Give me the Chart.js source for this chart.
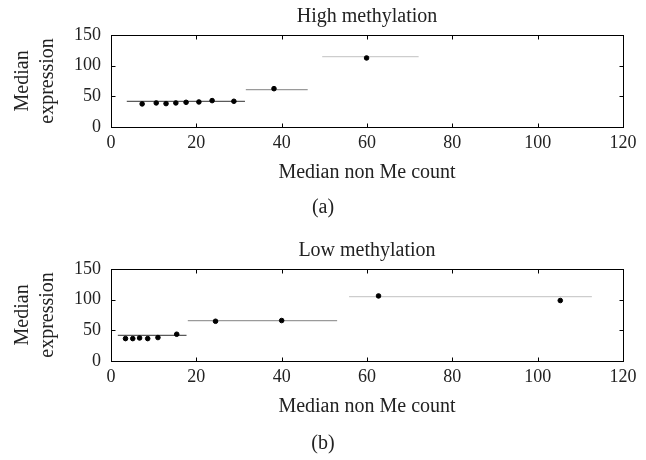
<!DOCTYPE html>
<html>
<head>
<meta charset="utf-8">
<script src="https://cdn.jsdelivr.net/npm/chart.js@4"></script>
<style>
  body { margin: 0; background: #fff; }
  #wrap { position: relative; width: 646px; height: 460px; }
  .panel { position: absolute; left: 0; width: 646px; height: 226px; }
  .tag { position: absolute; left: 0; width: 646px; text-align: center;
         font: 20px "Liberation Serif", "DejaVu Serif", serif; color: #222;
         line-height: 24px; height: 24px; }
</style>
</head>
<body>
<div id="wrap">
  <div class="panel" style="top:0"><canvas id="high" width="646" height="226"></canvas></div>
  <div class="panel" style="top:234px"><canvas id="low" width="646" height="226"></canvas></div>
  <div class="tag" style="top:194px">(a)</div>
  <div class="tag" style="top:430px">(b)</div>
</div>
<script>
// axis ticks
var xTicks = [0, 20, 40, 60, 80, 100, 120];
var yTicks = [0, 50, 100, 150];

// high methylation: medians per bin
var highX = [7.3, 10.6, 12.9, 15.2, 17.6, 20.6, 23.7, 28.8, 38.2, 59.9];
var highY = [37.4, 39.0, 37.9, 39.0, 40.0, 40.6, 42.8, 41.7, 62.3, 112.5];
// group levels (horizontal segments)
var highStart = [3.7, 31.6, 49.5];
var highEnd = [31.4, 46.1, 72.1];
var highLevel = [41.7, 60.8, 114.8];

// low methylation
var lowX = [3.4, 5.1, 6.7, 8.6, 11.0, 15.4, 24.5, 40.0, 62.7, 105.3];
var lowY = [36.3, 36.3, 37.3, 36.3, 38.0, 43.4, 64.6, 65.8, 106.0, 98.5];
var lowStart = [1.6, 18.0, 55.8];
var lowEnd = [17.7, 53.0, 112.7];
var lowLevel = [41.7, 65.8, 105.0];

Chart.defaults.font.family = '"Liberation Serif", "DejaVu Serif", serif';
Chart.defaults.font.size = 18;
Chart.defaults.color = '#222';

// box around the plot with inward ticks on all four sides
var boxTicks = {
  id: 'boxTicks',
  afterDraw: function(chart) {
    var ctx = chart.ctx, a = chart.chartArea;
    var x = chart.scales.x, y = chart.scales.y;
    var l = Math.round(a.left) + 0.5, r = Math.round(a.right) + 0.5;
    var t = Math.round(a.top) + 0.5, b = Math.round(a.bottom) + 0.5;
    ctx.save();
    ctx.strokeStyle = '#000';
    ctx.lineWidth = 1;
    ctx.strokeRect(l, t, r - l, b - t);
    ctx.beginPath();
    x.ticks.forEach(function(tk) {
      var px = Math.round(x.getPixelForValue(tk.value)) + 0.5;
      ctx.moveTo(px, b); ctx.lineTo(px, b - 4);
      ctx.moveTo(px, t); ctx.lineTo(px, t + 4);
    });
    y.ticks.forEach(function(tk) {
      var py = Math.round(y.getPixelForValue(tk.value)) + 0.5;
      ctx.moveTo(l, py); ctx.lineTo(l + 4, py);
      ctx.moveTo(r, py); ctx.lineTo(r - 4, py);
    });
    ctx.stroke();
    ctx.restore();
  }
};

function makeChart(id, title, xs, ys, starts, ends, levels) {
  var segColors = ['#5a5a5a', '#9a9a9a', '#cdcdcd'];
  var datasets = [{
    type: 'scatter',
    data: xs.map(function(v, i) { return {x: v, y: ys[i]}; }),
    backgroundColor: '#000',
    borderColor: '#000',
    pointRadius: 2.3,
    order: 0
  }];
  levels.forEach(function(lv, i) {
    datasets.push({
      type: 'line',
      data: [{x: starts[i], y: lv}, {x: ends[i], y: lv}],
      borderColor: segColors[i],
      borderWidth: 1.3,
      pointRadius: 0,
      order: 1
    });
  });

  return new Chart(document.getElementById(id), {
    type: 'scatter',
    data: {datasets: datasets},
    options: {
      responsive: false,
      animation: false,
      layout: {padding: {top: 0, right: 23, bottom: 41, left: 0}},
      plugins: {
        legend: {display: false},
        tooltip: {enabled: false},
        title: {
          display: true,
          text: title,
          fullSize: false,
          font: {size: 20, weight: 'normal'},
          padding: {top: 5, bottom: 6}
        }
      },
      scales: {
        x: {
          type: 'linear',
          min: 0, max: 120,
          afterBuildTicks: function(s) { s.ticks = xTicks.map(function(v) { return {value: v}; }); },
          ticks: {padding: 6, maxRotation: 0},
          grid: {display: false, drawTicks: false},
          border: {display: false},
          title: {display: true, text: 'Median non Me count', font: {size: 20}, padding: {top: 0.6, bottom: 0}}
        },
        y: {
          type: 'linear',
          min: 0, max: 150,
          afterBuildTicks: function(s) { s.ticks = yTicks.map(function(v) { return {value: v}; }); },
          afterFit: function(s) { s.width = 111; },
          ticks: {padding: 10},
          grid: {display: false, drawTicks: false},
          border: {display: false},
          title: {
            display: true,
            text: ['Median', 'expression'],
            font: {size: 20, lineHeight: 1.25},
            padding: {top: 10.5, bottom: 0}
          }
        }
      }
    },
    plugins: [boxTicks]
  });
}

makeChart('high', 'High methylation', highX, highY, highStart, highEnd, highLevel);
makeChart('low', 'Low methylation', lowX, lowY, lowStart, lowEnd, lowLevel);
</script>
</body>
</html>
